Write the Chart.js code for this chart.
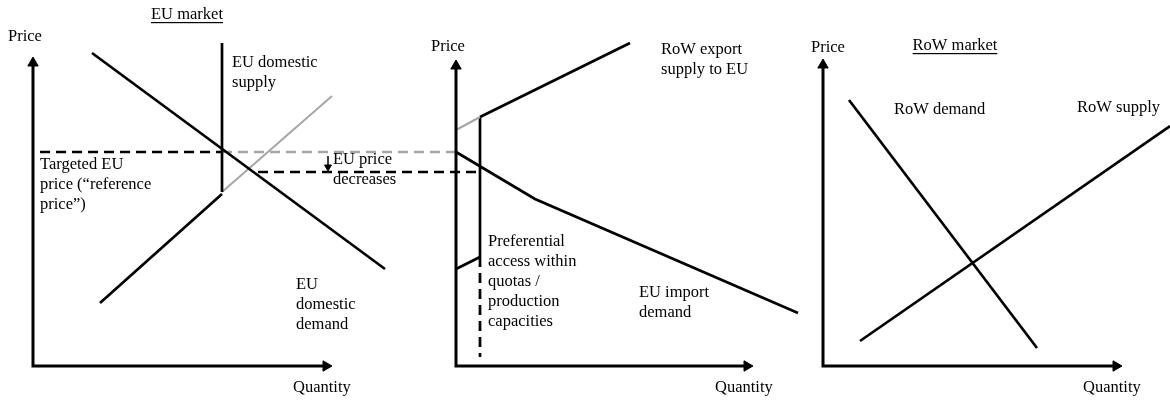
<!DOCTYPE html>
<html>
<head>
<meta charset="utf-8">
<script src="https://cdn.jsdelivr.net/npm/chart.js@4.4.1/dist/chart.umd.min.js"></script>
<style>
  html, body { margin: 0; padding: 0; background: #fff; }
  #wrap { width: 1170px; height: 400px; }
</style>
</head>
<body>
<div id="wrap"><canvas id="diagram"></canvas></div>
<script>
// ── Figure frame: x runs across the three markets, y is price height (0 = bottom) ──

// EU market
const euDemand      = [{ x: 92, y: 347 }, { x: 385, y: 131 }];
const euSupplyCap   = [{ x: 222, y: 357 }, { x: 222, y: 208 }];
const euSupplyLow   = [{ x: 100, y: 97 }, { x: 222, y: 206 }];
const euSupplyShift = [{ x: 222, y: 208 }, { x: 332, y: 304 }];
const refPrice      = [{ x: 40, y: 248 }, { x: 222, y: 248 }];
const refPriceLink  = [{ x: 222, y: 248 }, { x: 456, y: 248 }];
const newPrice      = [{ x: 258, y: 228 }, { x: 480, y: 228 }];
const priceDrop     = [{ x: 328, y: 244 }, { x: 328, y: 233 }];

// EU import market
const rowExportLow   = [{ x: 456, y: 270 }, { x: 480, y: 283 }];
const rowExport      = [{ x: 480, y: 283 }, { x: 630, y: 357 }];
const quotaCap       = [{ x: 480, y: 283 }, { x: 480, y: 143 }];
const quotaCapDash   = [{ x: 480, y: 143 }, { x: 480, y: 43 }];
const prefSupply     = [{ x: 456, y: 131 }, { x: 480, y: 143 }];
const euImportDemand = [{ x: 456, y: 248 }, { x: 535, y: 201 }, { x: 798, y: 87 }];

// RoW market
const rowDemand = [{ x: 849, y: 300 }, { x: 1037, y: 52 }];
const rowSupply = [{ x: 860, y: 59 }, { x: 1170, y: 274 }];

// axes: origin, end of quantity axis, end of price axis
const axisOriginX = [33, 456, 823];
const axisOriginY = [34, 34, 34];
const axisEndX    = [326, 747, 1116];
const axisEndY    = [337, 334, 335];

// text labels (lines of text)
const labels = [
  { lines: ['EU market'], x: 187, y: 385, align: 'center', underline: true },
  { lines: ['Price'], x: 8, y: 363 },
  { lines: ['Quantity'], x: 293, y: 12 },
  { lines: ['EU domestic', 'supply'], x: 232, y: 337 },
  { lines: ['Targeted EU', 'price (\u201creference', 'price\u201d)'], x: 40, y: 235 },
  { lines: ['EU price', 'decreases'], x: 333, y: 240 },
  { lines: ['EU', 'domestic', 'demand'], x: 296, y: 115 },
  { lines: ['Price'], x: 431, y: 353 },
  { lines: ['RoW export', 'supply to EU'], x: 661, y: 350 },
  { lines: ['Preferential', 'access within', 'quotas /', 'production', 'capacities'], x: 488, y: 158 },
  { lines: ['EU import', 'demand'], x: 639, y: 107 },
  { lines: ['Quantity'], x: 715, y: 12 },
  { lines: ['Price'], x: 811, y: 352 },
  { lines: ['RoW market'], x: 955, y: 354, align: 'center', underline: true },
  { lines: ['RoW demand'], x: 894, y: 290 },
  { lines: ['RoW supply'], x: 1077, y: 292 },
  { lines: ['Quantity'], x: 1083, y: 12 },
];

const BLACK = '#000000';
const GREY = '#a6a6a6';
const FONT = '16.5px "Liberation Serif", "Times New Roman", serif';
const LINE_H = 20;

function seg(data, color, width, dash) {
  return {
    data, showLine: true, borderColor: color, borderWidth: width,
    borderDash: dash || [], pointRadius: 0, tension: 0, fill: false,
  };
}

const datasets = [];

axisOriginX.forEach((x0, i) => {
  datasets.push(seg([
    { x: x0, y: axisEndY[i] }, { x: x0, y: axisOriginY[i] }, { x: axisEndX[i], y: axisOriginY[i] }
  ], BLACK, 3));
  datasets.push({
    data: [{ x: x0, y: axisEndY[i] }, { x: axisEndX[i], y: axisOriginY[i] }],
    showLine: false, pointStyle: 'triangle', pointRadius: 6,
    pointRotation: [0, 90], pointBackgroundColor: BLACK, pointBorderColor: BLACK, pointBorderWidth: 1,
  });
});

datasets.push(
  seg(euDemand, BLACK, 2.7),
  seg(euSupplyCap, BLACK, 2.7),
  seg(euSupplyLow, BLACK, 2.7),
  seg(euSupplyShift, GREY, 2),
  seg(refPrice, BLACK, 2.7, [10, 6]),
  seg(refPriceLink, GREY, 2.5, [10, 6]),
  seg(newPrice, BLACK, 2.7, [10, 6]),
  seg(priceDrop, BLACK, 1.5),
  {
    data: [priceDrop[1]], showLine: false, pointStyle: 'triangle', pointRadius: 4,
    pointRotation: 180, pointBackgroundColor: BLACK, pointBorderColor: BLACK, pointBorderWidth: 1,
  },
  seg(rowExportLow, GREY, 2),
  seg(rowExport, BLACK, 2.7),
  seg(quotaCap, BLACK, 2.7),
  seg(quotaCapDash, BLACK, 2.7, [10, 6]),
  seg(prefSupply, BLACK, 2.7),
  seg(euImportDemand, BLACK, 2.7),
  seg(rowDemand, BLACK, 2.7),
  seg(rowSupply, BLACK, 2.7),
);

const textPlugin = {
  id: 'diagramText',
  afterDatasetsDraw(chart) {
    const { ctx, scales: { x, y } } = chart;
    ctx.save();
    ctx.font = FONT;
    ctx.fillStyle = BLACK;
    ctx.textBaseline = 'middle';
    labels.forEach(l => {
      ctx.textAlign = l.align || 'left';
      const px = x.getPixelForValue(l.x);
      const py = y.getPixelForValue(l.y);
      l.lines.forEach((t, i) => {
        ctx.fillText(t, px, py + i * LINE_H);
        if (l.underline) {
          const w = ctx.measureText(t).width;
          const left = ctx.textAlign === 'center' ? px - w / 2 : px;
          ctx.fillRect(left, py + i * LINE_H + 7, w, 1.2);
        }
      });
    });
    ctx.restore();
  }
};

new Chart(document.getElementById('diagram'), {
  type: 'scatter',
  data: { datasets },
  options: {
    responsive: true,
    maintainAspectRatio: false,
    animation: false,
    layout: { padding: 0, autoPadding: false },
    clip: false,
    plugins: { legend: { display: false }, tooltip: { enabled: false } },
    scales: {
      x: { type: 'linear', min: 0, max: 1170, display: false },
      y: { type: 'linear', min: 0, max: 400, display: false },
    },
  },
  plugins: [textPlugin],
});
</script>
</body>
</html>
